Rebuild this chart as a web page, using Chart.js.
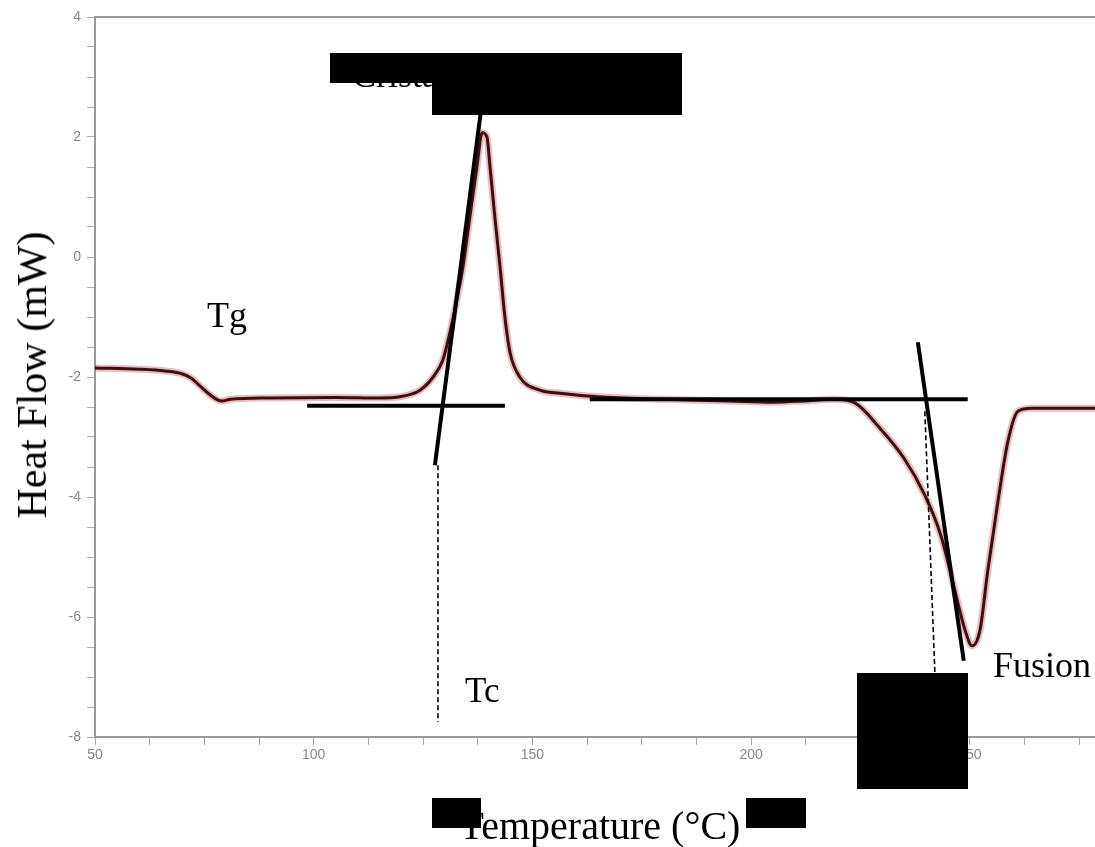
<!DOCTYPE html>
<html>
<head>
<meta charset="utf-8">
<script src="https://cdn.jsdelivr.net/npm/chart.js@4/dist/chart.umd.min.js"></script>
<style>
  body { margin: 0; background: #fff; }
  #wrap { position: relative; width: 1095px; height: 847px; overflow: hidden; }
  .lbl { position: absolute; font-family: "Liberation Serif", "Times New Roman", serif; color: #000; white-space: nowrap; line-height: 1; }
  .box { position: absolute; background: #000; }
</style>
</head>
<body>
<div id="wrap">
  <canvas id="dsc" width="1095" height="847"></canvas>

  <div class="lbl" style="left:207px; top:297px; font-size:36px;">Tg</div>
  <div class="lbl" style="left:465px; top:673px; font-size:35px;">Tc</div>
  <div class="lbl" style="left:993px; top:647px; font-size:36px;">Fusion</div>
  <div class="lbl" style="left:352px; top:57px; font-size:36px;">Cristallisation</div>
  <div class="lbl" style="left:600px; top:806px; font-size:40px; transform:translateX(-50%);">Temperature (°C)</div>
  <div class="lbl" style="left:32px; top:375px; font-size:42px; transform:translate(-50%,-50%) rotate(-90deg);">Heat Flow (mW)</div>

  <div class="box" style="left:330px; top:53px; width:352px; height:30px;"></div>
  <div class="box" style="left:432px; top:53px; width:250px; height:62px;"></div>
  <div class="box" style="left:857px; top:673px; width:111px; height:116px;"></div>
  <div class="box" style="left:432px; top:798px; width:49px; height:30px;"></div>
  <div class="box" style="left:746px; top:798px; width:60px; height:30px;"></div>
</div>

<script>
// DSC curve (temperature in °C, heat flow in mW)
const temps = [50, 60, 66, 70, 72, 74, 76, 78, 79, 81, 90, 105, 115, 119.7, 124.3, 127.3, 129.5, 131.1, 132.7, 134.1,
  135.7, 137.3, 138.5, 139.6, 140.3, 141.4, 142.6, 143.7, 144.9, 147.1, 151.7, 156.3, 165, 180, 195, 205, 212, 219,
  223.7, 229.4, 234.9, 239.7, 243.4, 246.3, 248.9, 250.5, 252.3, 254.1, 256.4, 258.7, 261, 264.2, 278.6];
const heatFlow = [-1.85, -1.87, -1.9, -1.95, -2.02, -2.15, -2.28, -2.38, -2.4, -2.37, -2.35, -2.34, -2.35, -2.33, -2.22, -2.0, -1.72, -1.27, -0.72, -0.17,
  0.67, 1.5, 2.07, 2.0, 1.5, 0.67, -0.17, -1.0, -1.6, -2.0, -2.22, -2.27, -2.33, -2.37, -2.4, -2.42, -2.4, -2.37,
  -2.43, -2.85, -3.35, -3.97, -4.65, -5.48, -6.22, -6.48, -6.22, -5.22, -4.08, -3.07, -2.57, -2.52, -2.52];

// onset construction lines (data coords)
const baseCryst = [[98.5, -2.48], [143.7, -2.48]];
const slopeCryst = [[127.7, -3.47], [138.2, 2.42]];
const dropCryst = [[128.4, -3.47], [128.4, -7.75]];
const baseMelt = [[163.1, -2.37], [249.5, -2.37]];
const slopeMelt = [[238.1, -1.42], [248.6, -6.73]];
const dropMelt = [[239.7, -2.57], [242, -6.93]];

const xTicksMajor = [50, 100, 150, 200, 250];
const yTicksMajor = [-8, -6, -4, -2, 0, 2, 4];

const pts = (arr) => arr.map(p => ({ x: p[0], y: p[1] }));
const curve = temps.map((t, i) => ({ x: t, y: heatFlow[i] }));

const frameTop = {
  id: 'frameTop',
  afterDraw(chart) {
    const { ctx, chartArea } = chart;
    ctx.save();
    ctx.strokeStyle = '#999';
    ctx.lineWidth = 2;
    ctx.beginPath();
    ctx.moveTo(chartArea.left, chartArea.top);
    ctx.lineTo(chartArea.right, chartArea.top);
    ctx.stroke();
    ctx.restore();
  }
};

const lineDs = (data, color, width, dash, order) => ({
  data: data, borderColor: color, borderWidth: width, borderDash: dash || [],
  pointRadius: 0, fill: false, showLine: true, order: order, borderCapStyle: 'butt'
});

new Chart(document.getElementById('dsc'), {
  type: 'scatter',
  data: {
    datasets: [
      lineDs(pts(baseCryst), '#000', 4, null, 1),
      lineDs(pts(slopeCryst), '#000', 4, null, 1),
      lineDs(pts(dropCryst), '#000', 1.6, [5, 3], 1),
      lineDs(pts(baseMelt), '#000', 4, null, 1),
      lineDs(pts(slopeMelt), '#000', 4, null, 1),
      lineDs(pts(dropMelt), '#000', 1.6, [5, 3], 1),
      Object.assign(lineDs(curve, 'rgb(62,14,16)', 3, null, 2), { cubicInterpolationMode: 'monotone' }),
      Object.assign(lineDs(curve, 'rgba(190,70,70,0.35)', 7, null, 3), { cubicInterpolationMode: 'monotone' })
    ]
  },
  options: {
    responsive: false,
    animation: false,
    layout: { padding: { top: 17, right: 0, bottom: 0, left: 0 } },
    plugins: { legend: { display: false }, tooltip: { enabled: false } },
    scales: {
      x: {
        type: 'linear', min: 50, max: 278.6,
        afterFit: (s) => { s.height = 110; },
        border: { color: '#999', width: 2 },
        grid: { drawOnChartArea: false, tickLength: 8, color: '#aaa' },
        ticks: {
          stepSize: 12.5, includeBounds: false, autoSkip: false, maxRotation: 0, padding: 2,
          color: '#888', font: { family: 'Liberation Sans', size: 14 },
          callback: (v) => xTicksMajor.includes(v) ? String(v) : ''
        }
      },
      y: {
        type: 'linear', min: -8, max: 4,
        afterFit: (s) => { s.width = 95; },
        border: { color: '#999', width: 2 },
        grid: { drawOnChartArea: false, tickLength: 8, color: '#aaa' },
        ticks: {
          stepSize: 0.5, autoSkip: false, padding: 6,
          color: '#888', font: { family: 'Liberation Sans', size: 14 },
          callback: (v) => yTicksMajor.includes(v) ? String(v) : ''
        }
      }
    }
  },
  plugins: [frameTop]
});
</script>
</body>
</html>
